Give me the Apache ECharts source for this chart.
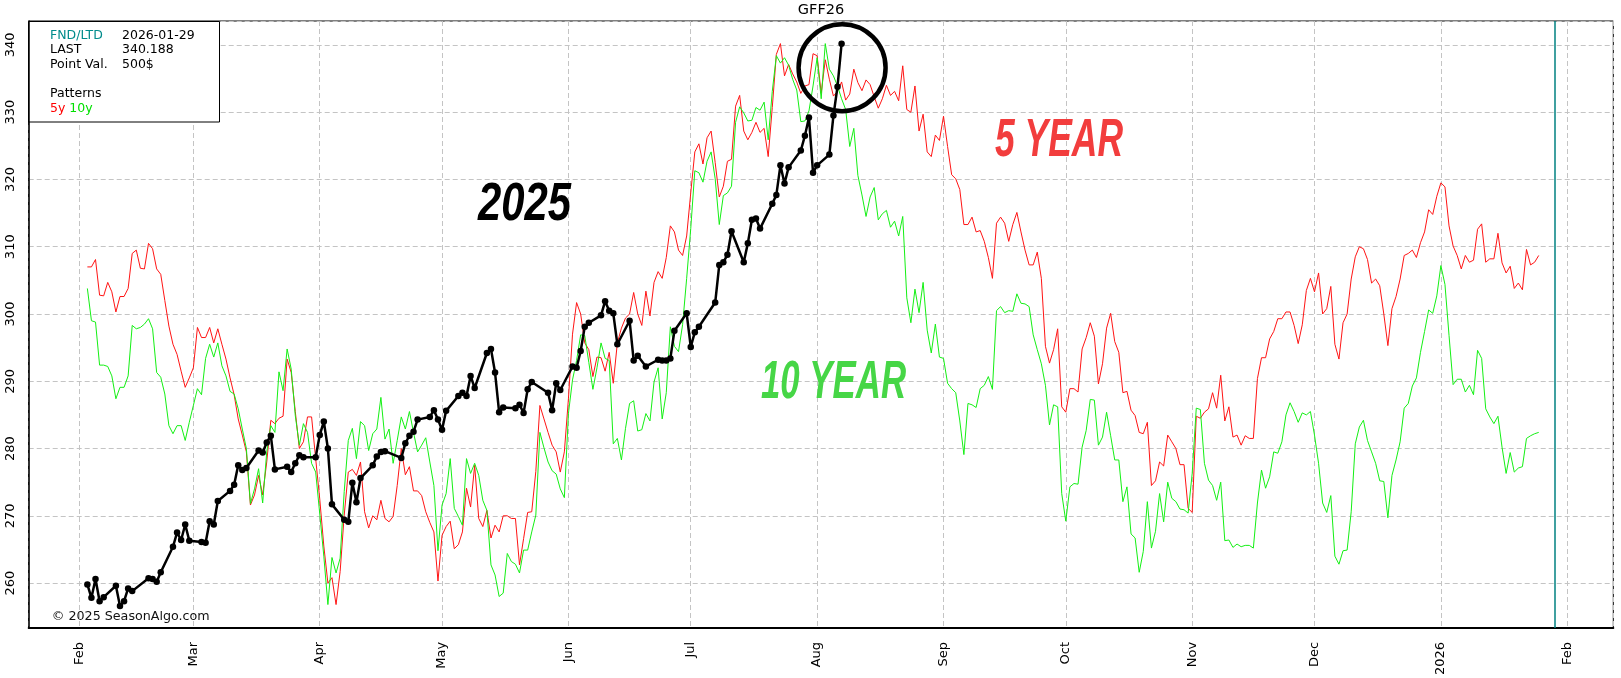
<!DOCTYPE html>
<html>
<head>
<meta charset="utf-8">
<title>GFF26</title>
<script src="https://cdn.jsdelivr.net/npm/echarts@6/dist/echarts.min.js"></script>
<style>
  html, body { margin: 0; padding: 0; background: #fff; }
  #chart { width: 1621px; height: 678px; }
</style>
</head>
<body>
<div id="chart"></div>
<script>
// seasonal patterns, one value per calendar day starting 2025-02-03
var patternStart = [2025, 1, 3];
var fiveYear = [
  307.0, 307.0, 308.1, 302.8, 302.7, 304.7, 303.3, 300.3, 302.6, 302.6,
  303.8, 309.0, 309.5, 306.8, 306.7, 310.5, 309.7, 306.7, 305.9, 302.0,
  298.2, 295.5, 294.0, 291.5, 289.1, 290.5, 292.0, 298.0, 296.5, 296.5,
  298.0, 295.7, 297.8, 295.5, 293.3, 290.5, 288.0, 284.4, 282.0, 279.5,
  271.6, 273.1, 276.0, 273.1, 278.0, 284.2, 283.7, 284.5, 284.8, 293.3,
  291.3, 285.5, 280.0, 281.0, 284.7, 284.7, 278.5, 272.5, 265.5, 260.0,
  260.8, 256.8, 261.7, 270.1, 276.5, 276.9, 276.0, 278.0, 270.6, 268.2,
  270.0, 269.4, 272.3, 269.6, 269.1, 269.9, 274.5, 280.0, 276.1, 277.3,
  273.7, 273.7, 273.0, 270.6, 269.0, 267.6, 260.3, 267.1, 268.4, 269.2,
  265.1, 265.7, 267.6, 274.1, 271.3, 277.5, 269.6, 268.4, 270.8, 266.7,
  268.6, 267.6, 270.0, 270.0, 269.6, 269.6, 262.7, 266.6, 270.5, 270.6,
  276.6, 286.4, 284.4, 282.4, 280.5, 279.5, 276.5, 279.5, 287.4, 297.0,
  301.7, 300.0, 295.7, 294.7, 290.7, 293.6, 293.5, 291.5, 294.3, 289.7,
  295.7, 297.9, 299.4, 300.0, 303.2, 300.0, 298.3, 303.4, 299.7, 304.7,
  306.3, 305.3, 308.4, 313.1, 312.2, 309.5, 308.7, 311.6, 318.0, 324.1,
  325.3, 322.3, 326.2, 327.2, 322.5, 317.4, 319.0, 322.7, 323.0, 330.9,
  332.5, 327.2, 325.9, 327.0, 328.5, 327.0, 327.6, 323.4, 330.7, 338.6,
  340.2, 335.4, 337.1, 335.7, 334.5, 332.8, 333.9, 334.1, 338.7, 338.4,
  332.8, 337.8, 334.9, 332.4, 333.1, 334.5, 331.8, 332.7, 336.4, 334.4,
  333.2, 334.8, 334.1, 332.3, 330.6, 332.0, 334.0, 332.5, 333.1, 331.7,
  336.9, 330.4, 330.0, 333.9, 327.2, 329.7, 324.1, 323.4, 326.6, 325.8,
  329.4, 324.9, 320.7, 320.1, 318.5, 313.3, 313.3, 314.4, 312.2, 312.4,
  310.8, 308.4, 305.3, 313.5, 314.4, 313.5, 310.8, 313.3, 315.1, 312.2,
  309.5, 307.3, 307.3, 309.2, 305.3, 295.2, 292.7, 294.7, 297.8, 286.2,
  285.4, 288.9, 288.9, 288.4, 294.8, 296.5, 298.7, 296.7, 289.6, 292.6,
  297.9, 300.1, 295.9, 294.3, 288.3, 288.5, 285.7, 284.9, 282.4, 282.2,
  283.9, 274.5, 275.2, 278.0, 277.4, 282.0, 281.0, 280.0, 277.6, 277.6,
  271.1, 270.5, 284.8, 284.5, 285.4, 285.9, 288.3, 286.0, 290.9, 284.1,
  286.2, 281.7, 282.0, 280.5, 281.9, 281.5, 281.5, 290.4, 293.5, 293.5,
  296.3, 297.4, 299.3, 299.3, 300.3, 300.3, 298.3, 295.6, 298.4, 303.5,
  305.3, 303.3, 306.1, 300.0, 300.8, 304.1, 295.5, 293.3, 298.7, 300.0,
  305.2, 308.5, 310.0, 309.7, 308.1, 304.6, 305.2, 304.2, 300.0, 295.3,
  300.8, 302.6, 305.2, 308.7, 309.0, 309.5, 308.4, 310.6, 312.2, 315.5,
  314.8, 317.5, 319.5, 318.9, 313.1, 310.1, 308.7, 306.7, 308.7, 307.7,
  308.0, 312.6, 313.4, 307.7, 308.2, 308.2, 312.0, 307.6, 306.1, 307.1,
  303.8, 304.6, 303.6, 309.6, 307.3, 307.7, 308.7
];
var tenYear = [
  303.8, 299.0, 298.8, 292.4, 292.4, 292.2, 290.8, 287.4, 289.1, 289.1,
  290.8, 298.3, 297.8, 298.0, 298.5, 299.3, 297.8, 291.3, 290.6, 288.1,
  283.4, 282.2, 283.4, 283.4, 281.2, 283.9, 286.4, 288.9, 288.0, 293.4,
  295.5, 293.6, 295.7, 292.3, 290.8, 288.5, 288.1, 285.9, 282.9, 280.0,
  271.8, 274.0, 277.0, 271.9, 279.5, 283.4, 282.4, 291.4, 288.6, 294.8,
  291.8, 284.9, 280.5, 283.7, 282.4, 277.8, 276.5, 270.3, 264.0, 256.8,
  263.8, 261.5, 263.7, 273.6, 281.2, 283.0, 278.5, 284.0, 283.4, 279.7,
  282.2, 282.9, 287.6, 281.4, 282.9, 277.8, 281.2, 284.7, 282.9, 285.5,
  282.4, 279.5, 280.5, 281.6, 278.0, 274.5, 264.8, 271.6, 273.3, 278.5,
  271.1, 269.9, 268.6, 278.5, 276.3, 277.8, 276.0, 272.3, 270.8, 262.7,
  261.2, 258.0, 258.5, 264.4, 263.2, 262.8, 261.5, 264.9, 264.9, 267.6,
  270.1, 282.4, 280.1, 278.0, 276.7, 276.2, 274.0, 272.7, 285.2, 290.2,
  293.1, 296.9, 296.8, 292.8, 288.8, 292.0, 295.7, 293.4, 293.1, 280.7,
  281.5, 278.3, 283.0, 286.7, 287.1, 282.6, 282.8, 285.2, 284.1, 289.9,
  292.0, 284.4, 288.3, 298.1, 295.2, 294.4, 298.4, 305.3, 312.7, 321.3,
  321.0, 319.6, 322.7, 324.1, 320.1, 313.3, 317.6, 318.0, 319.0, 328.5,
  330.8, 329.9, 328.7, 328.8, 330.7, 330.3, 331.5, 325.9, 333.1, 338.4,
  337.3, 338.1, 337.0, 334.9, 333.3, 328.6, 328.7, 330.2, 333.9, 338.1,
  332.0, 340.2, 336.4, 335.4, 333.9, 332.0, 330.4, 324.9, 327.6, 320.6,
  317.7, 314.5, 317.4, 318.8, 314.0, 314.9, 315.4, 312.9, 313.8, 311.6,
  314.5, 302.4, 298.7, 303.7, 300.2, 304.7, 297.6, 294.2, 298.5, 293.6,
  293.4, 289.7, 288.9, 288.3, 284.1, 279.1, 286.7, 286.5, 286.1, 288.9,
  289.4, 290.7, 288.8, 300.5, 301.1, 300.2, 300.5, 300.4, 303.0, 301.6,
  301.5, 301.1, 296.9, 294.7, 292.6, 289.4, 283.5, 286.5, 286.2, 273.3,
  269.2, 274.3, 274.8, 274.7, 280.2, 282.7, 287.3, 287.2, 280.5, 281.7,
  285.4, 281.9, 278.3, 278.3, 272.1, 274.3, 267.3, 266.7, 261.6, 264.7,
  272.1, 265.2, 267.7, 273.3, 269.1, 275.0, 272.6, 272.1, 271.0, 270.9,
  270.4, 276.3, 286.0, 285.8, 277.8, 275.3, 274.5, 272.3, 275.0, 266.3,
  266.4, 265.3, 265.8, 265.4, 265.6, 265.6, 265.2, 271.9, 276.8, 274.1,
  275.8, 279.5, 279.3, 281.0, 285.0, 286.8, 285.5, 283.9, 285.3, 285.0,
  285.5, 282.0, 277.8, 271.9, 270.5, 273.0, 264.0, 262.8, 264.8, 264.9,
  270.6, 280.7, 283.2, 284.2, 281.2, 279.5, 277.8, 275.2, 275.1, 269.7,
  276.0, 278.3, 281.0, 286.0, 286.7, 289.3, 290.5, 294.3, 297.4, 300.6,
  300.1, 302.7, 307.2, 304.4, 296.8, 289.5, 290.3, 290.3, 288.4, 289.4,
  288.0, 294.6, 293.4, 285.9, 284.7, 283.7, 284.8, 280.2, 276.3, 279.4,
  276.5, 277.1, 277.3, 281.5, 281.9, 282.2, 282.4
];

// 2025 closes, trading days
var dates2025 = [
  '2025-02-03', '2025-02-04', '2025-02-05', '2025-02-06', '2025-02-07',
  '2025-02-10', '2025-02-11', '2025-02-12', '2025-02-13', '2025-02-14',
  '2025-02-18', '2025-02-19', '2025-02-20', '2025-02-21',
  '2025-02-24', '2025-02-25', '2025-02-26', '2025-02-27', '2025-02-28',
  '2025-03-03', '2025-03-04', '2025-03-05', '2025-03-06', '2025-03-07',
  '2025-03-10', '2025-03-11', '2025-03-12', '2025-03-13', '2025-03-14',
  '2025-03-17', '2025-03-18', '2025-03-19', '2025-03-20', '2025-03-21',
  '2025-03-24', '2025-03-25', '2025-03-26', '2025-03-27', '2025-03-28',
  '2025-03-31', '2025-04-01', '2025-04-02', '2025-04-03', '2025-04-04',
  '2025-04-07', '2025-04-08', '2025-04-09', '2025-04-10', '2025-04-11',
  '2025-04-14', '2025-04-15', '2025-04-16', '2025-04-17',
  '2025-04-21', '2025-04-22', '2025-04-23', '2025-04-24', '2025-04-25',
  '2025-04-28', '2025-04-29', '2025-04-30', '2025-05-01', '2025-05-02',
  '2025-05-05', '2025-05-06', '2025-05-07', '2025-05-08', '2025-05-09',
  '2025-05-12', '2025-05-13', '2025-05-14', '2025-05-15', '2025-05-16',
  '2025-05-19', '2025-05-20', '2025-05-21', '2025-05-22', '2025-05-23',
  '2025-05-27', '2025-05-28', '2025-05-29', '2025-05-30',
  '2025-06-02', '2025-06-03', '2025-06-04', '2025-06-05', '2025-06-06',
  '2025-06-09', '2025-06-10', '2025-06-11', '2025-06-12', '2025-06-13',
  '2025-06-16', '2025-06-17', '2025-06-18', '2025-06-20',
  '2025-06-23', '2025-06-24', '2025-06-25', '2025-06-26', '2025-06-27',
  '2025-06-30', '2025-07-01', '2025-07-02', '2025-07-03',
  '2025-07-07', '2025-07-08', '2025-07-09', '2025-07-10', '2025-07-11',
  '2025-07-14', '2025-07-15', '2025-07-16', '2025-07-17', '2025-07-18',
  '2025-07-21', '2025-07-22', '2025-07-23', '2025-07-24', '2025-07-25',
  '2025-07-28', '2025-07-29', '2025-07-30', '2025-07-31', '2025-08-01',
  '2025-08-04', '2025-08-05', '2025-08-06', '2025-08-07'
];
var values2025 = [
  259.8, 257.8, 260.6, 257.3, 257.9,
  259.6, 256.6, 257.3, 259.2, 258.8,
  260.7, 260.6, 260.2, 261.6,
  265.4, 267.5, 266.4, 268.7, 266.3,
  266.1, 266.0, 269.2, 268.7, 272.2,
  273.7, 274.6, 277.5, 276.8, 277.1,
  279.7, 279.4, 280.9, 281.9, 276.9,
  277.3, 276.5, 277.8, 279.0, 278.7,
  278.7, 282.0, 284.0, 280.0, 271.7,
  269.4, 269.1, 274.9, 272.0, 275.6,
  277.5, 278.8, 279.5, 279.6,
  278.6, 280.8, 281.9, 282.5, 284.3,
  284.7, 285.7, 284.3, 282.8, 285.6,
  287.8, 288.3, 287.8, 290.8, 289.0,
  294.2, 294.8, 291.3, 285.4, 286.1,
  286.0, 286.5, 285.3, 288.8, 289.9,
  288.3, 285.7, 289.7, 288.7,
  292.2, 292.0, 294.5, 298.1, 298.7,
  299.8, 301.9, 300.5, 300.1, 295.5,
  299.0, 293.1, 293.8, 292.2,
  293.2, 293.1, 293.1, 293.4, 297.5,
  300.1, 295.1, 297.3, 298.1,
  301.7, 307.3, 307.7, 308.8, 312.3,
  307.7, 310.5, 314.0, 314.2, 312.7,
  316.4, 317.7, 322.1, 319.4, 321.8,
  324.3, 326.5, 329.2, 321.0, 322.1,
  323.7, 329.5, 333.8, 340.188
];

var infoLabels = ['FND/LTD', 'LAST', 'Point Val.'];
var infoValues = ['2026-01-29', '340.188', '500$'];
var fndDate = '2026-01-29';
var monthNames = ['Jan', 'Feb', 'Mar', 'Apr', 'May', 'Jun', 'Jul', 'Aug', 'Sep', 'Oct', 'Nov', 'Dec'];

var DAY = 86400000;
var FONT = 'DejaVu Sans';

function toTime (s) {
  var p = s.split('-');
  return new Date(+p[0], +p[1] - 1, +p[2]).getTime();
}

var patternDates = fiveYear.map(function (v, i) {
  return new Date(patternStart[0], patternStart[1], patternStart[2] + i).getTime();
});
var fiveData = fiveYear.map(function (v, i) { return [patternDates[i], v]; });
var tenData = tenYear.map(function (v, i) { return [patternDates[i], v]; });
var data2025 = dates2025.map(function (d, i) { return [toTime(d), values2025[i]]; });

var xMin = new Date(2025, 0, 19, 14, 40).getTime();
var xMax = new Date(2026, 1, 12, 7, 0).getTime();

var gridLine = { show: true, lineStyle: { color: '#c4c4c4', type: [5, 3], width: 1 } };

var chart = echarts.init(document.getElementById('chart'));

var option = {
  animation: false,
  backgroundColor: '#fff',
  grid: {
    left: 28.7, right: 7.7, top: 21, bottom: 48,
    show: true, borderColor: '#000', borderWidth: 1, backgroundColor: '#fff'
  },
  xAxis: {
    type: 'time',
    min: xMin,
    max: xMax,
    splitNumber: 14,
    minInterval: 28 * DAY,
    maxInterval: 31 * DAY,
    axisLine: { lineStyle: { color: '#000', width: 2 } },
    axisTick: { show: false },
    axisLabel: {
      rotate: 90,
      margin: 14,
      fontFamily: FONT,
      fontSize: 13,
      color: '#000',
      hideOverlap: false,
      formatter: function (v) {
        var d = new Date(v);
        return d.getMonth() === 0 ? String(d.getFullYear()) : monthNames[d.getMonth()];
      }
    },
    splitLine: gridLine
  },
  yAxis: {
    type: 'value',
    min: 253.33,
    max: 343.56,
    splitNumber: 9,
    axisLine: { show: true, lineStyle: { color: '#000', width: 1.5 } },
    axisTick: { show: false },
    axisLabel: {
      rotate: 90,
      margin: 12,
      fontFamily: FONT,
      fontSize: 13,
      color: '#000',
      formatter: function (v) { return Math.abs(v % 10) < 1e-6 ? String(v) : ''; }
    },
    splitLine: gridLine
  },
  series: [
    {
      name: '5y', type: 'line', data: fiveData, showSymbol: false,
      lineStyle: { color: '#ff1414', width: 1 }, itemStyle: { color: '#ff1414' }
    },
    {
      name: '10y', type: 'line', data: tenData, showSymbol: false,
      lineStyle: { color: '#14f014', width: 1 }, itemStyle: { color: '#14f014' }
    },
    {
      name: '2025', type: 'line', data: data2025,
      symbol: 'circle', symbolSize: 6.5, showSymbol: true,
      lineStyle: { color: '#000', width: 2.5 }, itemStyle: { color: '#000' },
      markLine: {
        silent: true,
        symbol: ['none', 'none'],
        label: { show: false },
        lineStyle: { color: '#008080', width: 1.5, type: 'solid' },
        data: [{ xAxis: toTime(fndDate) }]
      }
    }
  ]
};
chart.setOption(option);

// annotations
var measureCtx = document.createElement('canvas').getContext('2d');
function fitScale (text, size, width) {
  measureCtx.font = 'italic bold ' + size + 'px "Liberation Sans"';
  return width / measureCtx.measureText(text).width;
}
function bigLabel (text, color, x, y, width) {
  return {
    type: 'text', x: x, y: y, z: 90,
    scaleX: fitScale(text, 54, width),
    style: {
      text: text, fill: color,
      fontFamily: 'Liberation Sans', fontWeight: 'bold', fontStyle: 'italic', fontSize: 54,
      align: 'left', verticalAlign: 'middle'
    }
  };
}

var last = data2025[data2025.length - 1];
var lastPx = chart.convertToPixel({ xAxisIndex: 0, yAxisIndex: 0 }, last);

var infoTexts = [];
infoLabels.forEach(function (t, i) {
  infoTexts.push({ type: 'text', x: 50, y: 36 + i * 14.2, style: { text: t, fill: i === 0 ? '#008b8b' : '#000', fontFamily: FONT, fontSize: 12.5, verticalAlign: 'middle' } });
  infoTexts.push({ type: 'text', x: 122, y: 36 + i * 14.2, style: { text: infoValues[i], fill: '#000', fontFamily: FONT, fontSize: 12.5, verticalAlign: 'middle' } });
});

chart.setOption({
  graphic: [
    {
      type: 'text', x: 821, y: 10.5, z: 100,
      style: { text: 'GFF26', fill: '#000', fontFamily: FONT, fontSize: 14.5, align: 'center', verticalAlign: 'middle' }
    },
    {
      type: 'group', z: 100,
      children: [
        { type: 'rect', shape: { x: 28.5, y: 21.5, width: 191, height: 100.5 }, style: { fill: '#fff', stroke: '#000', lineWidth: 1 } }
      ].concat(infoTexts).concat([
        { type: 'text', x: 50, y: 93.7, style: { text: 'Patterns', fill: '#000', fontFamily: FONT, fontSize: 12.5, verticalAlign: 'middle' } },
        {
          type: 'text', x: 50, y: 108.3,
          style: {
            text: '{r|5y} {g|10y}', fontFamily: FONT, fontSize: 12.5, verticalAlign: 'middle',
            rich: { r: { fill: '#ff0000', fontFamily: FONT, fontSize: 12.5 }, g: { fill: '#00e000', fontFamily: FONT, fontSize: 12.5 } }
          }
        }
      ])
    },
    {
      type: 'text', x: 51.7, y: 616.7, z: 100,
      style: { text: '\u00a9 2025 SeasonAlgo.com', fill: '#111', fontFamily: FONT, fontSize: 12.7, verticalAlign: 'middle' }
    },
    bigLabel('2025', '#000', 478, 205.5, 93),
    bigLabel('5 YEAR', '#f23d3d', 995, 141.5, 128),
    bigLabel('10 YEAR', '#46d646', 761, 383, 145),
    {
      type: 'circle', z: 95,
      shape: { cx: lastPx[0] + 0.5, cy: lastPx[1] + 24, r: 43.5 },
      style: { fill: 'none', stroke: '#000', lineWidth: 4.5 }
    }
  ]
});
</script>
</body>
</html>
